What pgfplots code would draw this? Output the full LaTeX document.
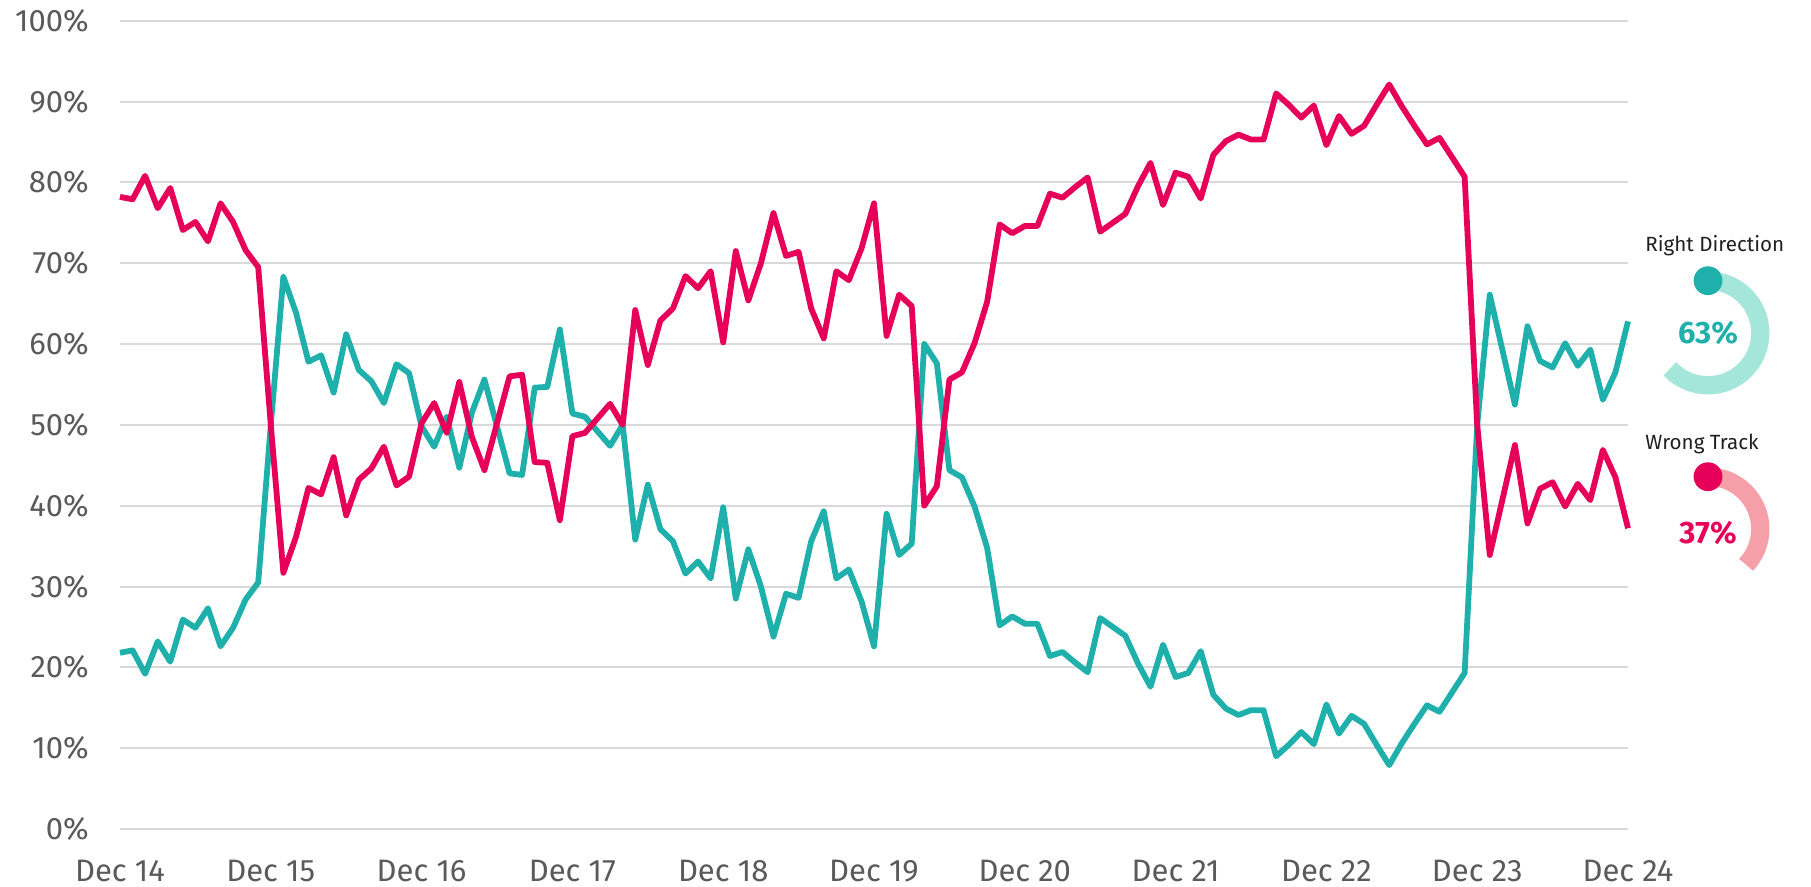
\documentclass[border=0pt]{standalone}
\usepackage{fontspec}
\setmainfont{Fira Sans}
\usepackage{pgfplots}
\pgfplotsset{compat=1.18}
\usepackage{pgfplotstable}
\definecolor{teal1}{HTML}{1FB0AC}
\definecolor{red1}{HTML}{E6005A}
\definecolor{tealring}{HTML}{A4E6DA}
\definecolor{pinkring}{HTML}{F5A0A8}
\definecolor{gridc}{HTML}{D9D9D9}
\definecolor{labc}{HTML}{5A5A5A}

\pgfplotstableread{
m T R
0 21.8 78.2
1 22.1 77.9
2 19.2 80.8
3 23.2 76.8
4 20.7 79.3
5 25.9 74.1
6 24.9 75.1
7 27.3 72.7
8 22.6 77.4
9 24.9 75.1
10 28.4 71.6
11 30.5 69.5
12 50.0 50.0
13 68.3 31.7
14 63.9 36.1
15 57.8 42.2
16 58.6 41.4
17 54.0 46.0
18 61.2 38.8
19 56.8 43.2
20 55.4 44.6
21 52.7 47.3
22 57.5 42.5
23 56.4 43.6
24 49.8 50.2
25 47.3 52.7
26 51.0 49.0
27 44.7 55.3
28 51.5 48.5
29 55.6 44.4
30 49.8 50.2
31 44.0 56.0
32 43.8 56.2
33 54.6 45.4
34 54.7 45.3
35 61.8 38.2
36 51.4 48.6
37 51.0 49.0
38 49.2 50.8
39 47.4 52.6
40 50.0 50.0
41 35.8 64.2
42 42.6 57.4
43 37.1 62.9
44 35.6 64.4
45 31.6 68.4
46 33.1 66.9
47 31.0 69.0
48 39.8 60.2
49 28.5 71.5
50 34.6 65.4
51 30.0 70.0
52 23.8 76.2
53 29.1 70.9
54 28.6 71.4
55 35.6 64.4
56 39.3 60.7
57 31.0 69.0
58 32.1 67.9
59 28.2 71.8
60 22.6 77.4
61 39.0 61.0
62 33.9 66.1
63 35.3 64.7
64 60.0 40.0
65 57.6 42.4
66 44.4 55.6
67 43.5 56.5
68 39.9 60.1
69 34.8 65.2
70 25.2 74.8
71 26.3 73.7
72 25.4 74.6
73 25.4 74.6
74 21.4 78.6
75 21.9 78.1
76 20.6 79.4
77 19.4 80.6
78 26.1 73.9
79 25.0 75.0
80 23.9 76.1
81 20.5 79.5
82 17.6 82.4
83 22.8 77.2
84 18.8 81.2
85 19.3 80.7
86 22.0 78.0
87 16.6 83.4
88 14.9 85.1
89 14.1 85.9
90 14.7 85.3
91 14.7 85.3
92 9.0 91.0
93 10.4 89.6
94 12.0 88.0
95 10.5 89.5
96 15.4 84.6
97 11.8 88.2
98 14.0 86.0
99 13.0 87.0
100 10.4 89.6
101 7.9 92.1
102 10.6 89.4
103 13.0 87.0
104 15.3 84.7
105 14.5 85.5
106 16.9 83.1
107 19.3 80.7
108 50.0 50.0
109 66.1 33.9
110 59.3 40.7
111 52.5 47.5
112 62.2 37.8
113 57.9 42.1
114 57.1 42.9
115 60.1 39.9
116 57.3 42.7
117 59.3 40.7
118 53.1 46.9
119 56.5 43.5
120 62.8 37.2
}\datatab

\begin{document}
\begin{tikzpicture}
\useasboundingbox (-60pt,-29pt) rectangle (845.5pt,414.5pt);
\begin{axis}[
  at={(0,0)}, anchor=south west,
  scale only axis, width=754pt, height=404.15pt,
  xmin=0, xmax=120, ymin=0, ymax=100,
  axis line style={draw=none},
  major tick length=0pt,
  xtick={0,12,...,120},
  xticklabels={Dec 14,Dec 15,Dec 16,Dec 17,Dec 18,Dec 19,Dec 20,Dec 21,Dec 22,Dec 23,Dec 24},
  ytick={0,10,...,100},
  yticklabels={0\%,10\%,20\%,30\%,40\%,50\%,60\%,70\%,80\%,90\%,100\%},
  ymajorgrids,
  grid style={gridc, line width=1pt},
  tick label style={font=\fontsize{15.5}{18}\selectfont, text=labc},
  xticklabel style={anchor=north, inner sep=0pt, yshift=-15.5pt},
  yticklabel style={anchor=east, inner sep=0pt, xshift=-15.4pt},
  clip=false,
]
\addplot[teal1, line width=2.9pt, line join=round] table[x=m,y=T]{\datatab};
\addplot[red1, line width=2.9pt, line join=round] table[x=m,y=R]{\datatab};
\end{axis}
% legend: Right Direction
\node[anchor=base west, inner sep=0pt, font=\fontsize{10.3}{12}\selectfont, text=black!88] at (762.5pt,288.5pt) {Right Direction};
\draw[tealring, line width=9.15pt] (794pt,274.15pt) arc[start angle=90, end angle=-136.8, radius=26.15pt];
\fill[teal1] (794pt,274.15pt) circle[radius=7.2pt];
\node[text=teal1, inner sep=0pt, font=\fontsize{15.5}{18}\selectfont\bfseries] at (794pt,248pt) {63\%};
% legend: Wrong Track
\node[anchor=base west, inner sep=0pt, font=\fontsize{10.3}{12}\selectfont, text=black!88] at (762.5pt,189.5pt) {Wrong Track};
\draw[pinkring, line width=9.15pt] (794pt,176.15pt) arc[start angle=90, end angle=-43.2, radius=26.15pt];
\fill[red1] (794pt,176.15pt) circle[radius=7.2pt];
\node[text=red1, inner sep=0pt, font=\fontsize{15.5}{18}\selectfont\bfseries] at (794pt,148.25pt) {37\%};
\end{tikzpicture}
\end{document}
